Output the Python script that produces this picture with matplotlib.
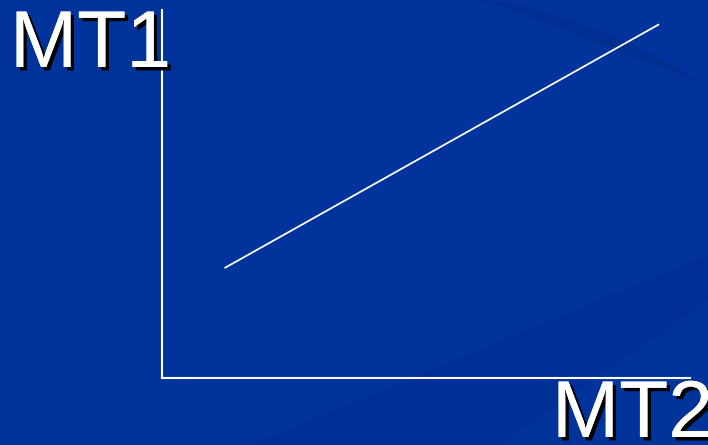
import matplotlib.pyplot as plt
import matplotlib.patheffects as pe
import numpy as np

# data
mt2 = [1.2, 9.4]
mt1 = [3.0, 9.6]
x_label = "MT2"
y_label = "MT1"

bg = "#00339c"
shadow = [pe.withSimplePatchShadow(offset=(2.5, -2.5), shadow_rgbFace="black", alpha=1.0), pe.Normal()]

fig = plt.figure(figsize=(7.08, 4.45), dpi=100)
fig.patch.set_facecolor(bg)

# faint background swooshes
bgax = fig.add_axes([0, 0, 1, 1])
bgax.set_xlim(0, 708)
bgax.set_ylim(445, 0)
bgax.axis("off")
bgax.fill([250, 708, 708, 500], [445, 255, 300, 445], color="#002d8c", alpha=0.35, lw=0)
t = np.linspace(0, 1, 50)
cx = 480 + 228 * t
cy_top = 85 * t**1.6
cy_bot = cy_top + 14 * np.sin(np.pi * t)
bgax.fill_between(cx, cy_top, cy_bot, color="#002a85", alpha=0.4, lw=0)

ax = fig.add_axes([162 / 708, 67 / 445, 528 / 708, 368 / 445])
ax.patch.set_alpha(0)
ax.plot(mt2, mt1, color="white", lw=1.3)
ax.set_xlim(0, 10)
ax.set_ylim(0, 10)
for s in ["top", "right"]:
    ax.spines[s].set_visible(False)
for s in ["left", "bottom"]:
    ax.spines[s].set_color("white")
    ax.spines[s].set_linewidth(1.5)
ax.set_xticks([])
ax.set_yticks([])

fig.text(10 / 708, 1 - 8 / 445, y_label, color="white", fontsize=58,
         family="Liberation Sans", ha="left", va="top", path_effects=shadow)
fig.text(552 / 708, 1 - 378 / 445, x_label, color="white", fontsize=58,
         family="Liberation Sans", ha="left", va="top", path_effects=shadow)

fig.savefig("out.png", dpi=100, facecolor=bg)
